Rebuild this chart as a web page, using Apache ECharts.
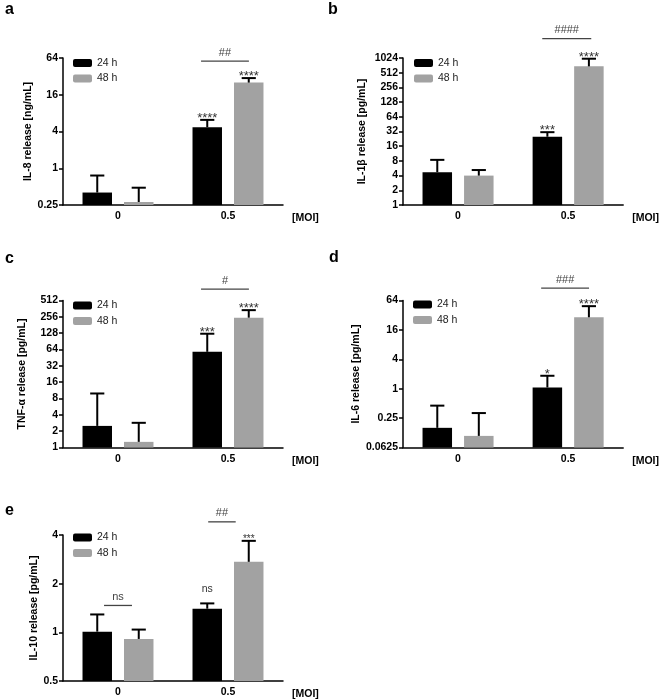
<!DOCTYPE html>
<html><head><meta charset="utf-8">
<script src="https://cdn.jsdelivr.net/npm/echarts@6/dist/echarts.min.js"></script>
<style>html,body{margin:0;padding:0;background:#fff}#c{width:660px;height:700px}</style>
</head><body><div id="c"></div>
<script>
// ---------- DATA ----------
const CATEGORIES = ['0', '0.5'];
const SERIES_NAMES = ['24 h', '48 h'];

// a: IL-8 [ng/mL]
const IL8_TICKS = [0.25, 1, 4, 16, 64];
const IL8_24H = [0.40, 4.7];
const IL8_24H_UPPER = [0.76, 6.2];
const IL8_48H = [0.28, 25.3];
const IL8_48H_UPPER = [0.48, 30];
const IL8_STARS_24H = ['', '****'];
const IL8_STARS_48H = ['', '****'];
const IL8_BRACKETS = [{ cat: 1, text: '##' }];

// b: IL-1β [pg/mL]
const IL1B_TICKS = [1, 2, 4, 8, 16, 32, 64, 128, 256, 512, 1024];
const IL1B_24H = [4.7, 25];
const IL1B_24H_UPPER = [8.4, 31];
const IL1B_48H = [4.0, 690];
const IL1B_48H_UPPER = [5.2, 990];
const IL1B_STARS_24H = ['', '***'];
const IL1B_STARS_48H = ['', '****'];
const IL1B_BRACKETS = [{ cat: 1, text: '####' }];

// c: TNF-α [pg/mL]
const TNF_TICKS = [1, 2, 4, 8, 16, 32, 64, 128, 256, 512];
const TNF_24H = [2.5, 58];
const TNF_24H_UPPER = [9.9, 125];
const TNF_48H = [1.27, 247];
const TNF_48H_UPPER = [2.85, 340];
const TNF_STARS_24H = ['', '***'];
const TNF_STARS_48H = ['', '****'];
const TNF_BRACKETS = [{ cat: 1, text: '#' }];

// d: IL-6 [pg/mL]
const IL6_TICKS = [0.0625, 0.25, 1, 4, 16, 64];
const IL6_24H = [0.158, 1.06];
const IL6_24H_UPPER = [0.45, 1.84];
const IL6_48H = [0.108, 29];
const IL6_48H_UPPER = [0.317, 49];
const IL6_STARS_24H = ['', '*'];
const IL6_STARS_48H = ['', '****'];
const IL6_BRACKETS = [{ cat: 1, text: '###' }];

// e: IL-10 [pg/mL]
const IL10_TICKS = [0.5, 1, 2, 4];
const IL10_24H = [1.01, 1.40];
const IL10_24H_UPPER = [1.29, 1.51];
const IL10_48H = [0.91, 2.73];
const IL10_48H_UPPER = [1.04, 3.68];
const IL10_STARS_24H = ['', 'ns'];
const IL10_STARS_48H = ['', '***'];
const IL10_BRACKETS = [{ cat: 0, text: 'ns' }, { cat: 1, text: '##' }];

// ---------- LAYOUT / STYLE ----------
const FONT = "'Liberation Sans', Arial, sans-serif";
const COLORS = ['#000000', '#a2a2a2'];
const BAR_W = 0.268, BAR_OFF = 0.1886;

const PANELS = [
  { letter: 'a', lx: 5, ly: 9.5, grid: { left: 63, top: 58, width: 220, height: 147 },
    yName: 'IL-8 release [ng/mL]', nameGap: 21, legend: { left: 73, top: 57.5 },
    ticks: IL8_TICKS, m: [IL8_24H, IL8_48H], u: [IL8_24H_UPPER, IL8_48H_UPPER],
    stars: [IL8_STARS_24H, IL8_STARS_48H], starSize: 13, brackets: IL8_BRACKETS,
    bLayout: [{ from: -0.245, to: 0.19, gap: 17 }] },
  { letter: 'b', lx: 328, ly: 9.5, grid: { left: 403, top: 58, width: 221, height: 147 },
    yName: 'IL-1\u03b2 release [pg/mL]', nameGap: 35, legend: { left: 414, top: 57.5 },
    ticks: IL1B_TICKS, m: [IL1B_24H, IL1B_48H], u: [IL1B_24H_UPPER, IL1B_48H_UPPER],
    stars: [IL1B_STARS_24H, IL1B_STARS_48H], starSize: 13, brackets: IL1B_BRACKETS,
    bLayout: [{ from: -0.235, to: 0.21, gap: 20 }] },
  { letter: 'c', lx: 5, ly: 258.5, grid: { left: 63, top: 300.5, width: 220, height: 147 },
    yName: 'TNF-\u03b1 release [pg/mL]', nameGap: 35, legend: { left: 73, top: 300 },
    ticks: TNF_TICKS, m: [TNF_24H, TNF_48H], u: [TNF_24H_UPPER, TNF_48H_UPPER],
    stars: [TNF_STARS_24H, TNF_STARS_48H], starSize: 13, brackets: TNF_BRACKETS,
    bLayout: [{ from: -0.245, to: 0.19, gap: 21 }] },
  { letter: 'd', lx: 329, ly: 257.5, grid: { left: 403, top: 300.5, width: 221, height: 147 },
    yName: 'IL-6 release [pg/mL]', nameGap: 28, legend: { left: 413, top: 299 },
    ticks: IL6_TICKS, m: [IL6_24H, IL6_48H], u: [IL6_24H_UPPER, IL6_48H_UPPER],
    stars: [IL6_STARS_24H, IL6_STARS_48H], starSize: 13, brackets: IL6_BRACKETS,
    bLayout: [{ from: -0.245, to: 0.19, gap: 18 }] },
  { letter: 'e', lx: 5, ly: 511, grid: { left: 63, top: 535, width: 220, height: 146 },
    yName: 'IL-10 release [pg/mL]', nameGap: 21, legend: { left: 73, top: 532 },
    ticks: IL10_TICKS, m: [IL10_24H, IL10_48H], u: [IL10_24H_UPPER, IL10_48H_UPPER],
    stars: [IL10_STARS_24H, IL10_STARS_48H], starSize: 10, brackets: IL10_BRACKETS,
    bLayout: [{ from: -0.127, to: 0.127, gap: 9 }, { from: -0.18, to: 0.07, gap: 19 }] }
];

function fmt(v) { return String(+(+v).toPrecision(6)); }

const option = { animation: false, backgroundColor: '#fff',
  textStyle: { fontFamily: FONT },
  grid: [], xAxis: [], yAxis: [], legend: [], series: [], graphic: [] };

PANELS.forEach((p, i) => {
  option.grid.push(Object.assign({ containLabel: false }, p.grid));
  option.xAxis.push({
    type: 'category', gridIndex: i, data: CATEGORIES,
    name: '[MOI]', nameLocation: 'end', nameGap: 9,
    nameTextStyle: { fontFamily: FONT, fontWeight: 'bold', fontSize: 10.5, color: '#000', verticalAlign: 'top', padding: [8, 0, 0, 0] },
    axisLine: { lineStyle: { color: '#000', width: 1.5 } },
    axisTick: { alignWithLabel: true, length: 4, lineStyle: { color: '#000', width: 1.5 } },
    axisLabel: { fontFamily: FONT, fontWeight: 'bold', fontSize: 10.5, color: '#000', margin: 6 },
    splitLine: { show: false }
  });
  const t = p.ticks;
  option.yAxis.push({
    type: 'log', logBase: 2, gridIndex: i, min: t[0], max: t[t.length - 1],
    interval: Math.log2(t[1] / t[0]),
    name: p.yName, nameLocation: 'middle', nameGap: p.nameGap, nameRotate: 90,
    nameTextStyle: { fontFamily: FONT, fontWeight: 'bold', fontSize: 10.5, color: '#000' },
    axisLine: { show: true, lineStyle: { color: '#000', width: 1.5 } },
    axisTick: { show: true, length: 4, lineStyle: { color: '#000', width: 1.5 } },
    axisLabel: { fontFamily: FONT, fontWeight: 'bold', fontSize: 10.5, color: '#000', margin: 5, formatter: fmt },
    minorTick: { show: false }, splitLine: { show: false }
  });
  option.legend.push({
    orient: 'vertical', left: p.legend.left, top: p.legend.top, data: SERIES_NAMES,
    icon: 'roundRect', itemWidth: 19, itemHeight: 8, itemGap: 4.5, selectedMode: false,
    textStyle: { fontFamily: FONT, fontSize: 10.5, color: '#222' }, padding: 0
  });
  const yMin = t[0];
  [0, 1].forEach(s => {
    const means = p.m[s], ups = p.u[s], color = COLORS[s], side = s === 0 ? -1 : 1;
    option.series.push({
      type: 'custom', name: SERIES_NAMES[s], xAxisIndex: i, yAxisIndex: i,
      itemStyle: { color: color }, silent: true,
      data: means.map((v, k) => [k, v, ups[k]]),
      encode: { x: 0, y: [1, 2] },
      renderItem: function (params, api) {
        const ci = api.value(0), v = api.value(1), up = api.value(2);
        const band = api.size([1, 1])[0];
        const top = api.coord([ci, v]);
        const upc = api.coord([ci, up]);
        const base = api.coord([ci, yMin]);
        const w = band * BAR_W, cx = top[0] + side * band * BAR_OFF, capW = w * 0.48;
        return { type: 'group', children: [
          { type: 'rect', shape: { x: cx - w / 2, y: top[1], width: w, height: base[1] - top[1] }, style: { fill: color } },
          { type: 'line', shape: { x1: cx, y1: top[1], x2: cx, y2: upc[1] }, style: { stroke: '#000', lineWidth: 2 } },
          { type: 'line', shape: { x1: cx - capW / 2, y1: upc[1], x2: cx + capW / 2, y2: upc[1] }, style: { stroke: '#000', lineWidth: 2 } }
        ] };
      }
    });
  });
  // annotations: stars above bars, brackets between bars
  const items = [];
  [0, 1].forEach(s => p.stars[s].forEach((txt, k) => {
    if (txt) items.push({ kind: 'star', cat: k, side: s === 0 ? -1 : 1, text: txt, up: p.u[s][k] });
  }));
  p.brackets.forEach((b, j) => items.push({ kind: 'bracket', cat: b.cat, text: b.text,
    up: Math.max(p.u[0][b.cat], p.u[1][b.cat]), lay: p.bLayout[j] }));
  option.series.push({
    type: 'custom', xAxisIndex: i, yAxisIndex: i, silent: true, z: 5,
    data: items.map(it => [it.cat, it.up]),
    encode: { x: 0, y: 1 },
    renderItem: function (params, api) {
      const it = items[params.dataIndex];
      const band = api.size([1, 1])[0];
      const pt = api.coord([it.cat, it.up]);
      if (it.kind === 'star') {
        const isNs = it.text === 'ns';
        return { type: 'text', style: {
          text: it.text, x: pt[0] + it.side * band * BAR_OFF, y: pt[1] - (isNs ? 14 : 1.5),
          align: 'center', verticalAlign: 'middle', fill: '#333',
          font: (isNs ? 10.5 : p.starSize) + 'px ' + FONT } };
      }
      const ly = pt[1] - it.lay.gap;
      const x1 = pt[0] + it.lay.from * band, x2 = pt[0] + it.lay.to * band;
      return { type: 'group', children: [
        { type: 'line', shape: { x1: x1, y1: ly, x2: x2, y2: ly }, style: { stroke: '#444', lineWidth: 1.3 } },
        { type: 'text', style: { text: it.text, x: (x1 + x2) / 2, y: ly - 8.5, align: 'center', verticalAlign: 'middle',
          fill: '#444', font: '11px ' + FONT } }
      ] };
    }
  });
  option.graphic.push({ type: 'text', left: p.lx, top: p.ly - 8,
    style: { text: p.letter, font: 'bold 16px ' + FONT, fill: '#000' } });
});

const chart = echarts.init(document.getElementById('c'), null, { renderer: 'canvas' });
chart.setOption(option);
</script></body></html>
